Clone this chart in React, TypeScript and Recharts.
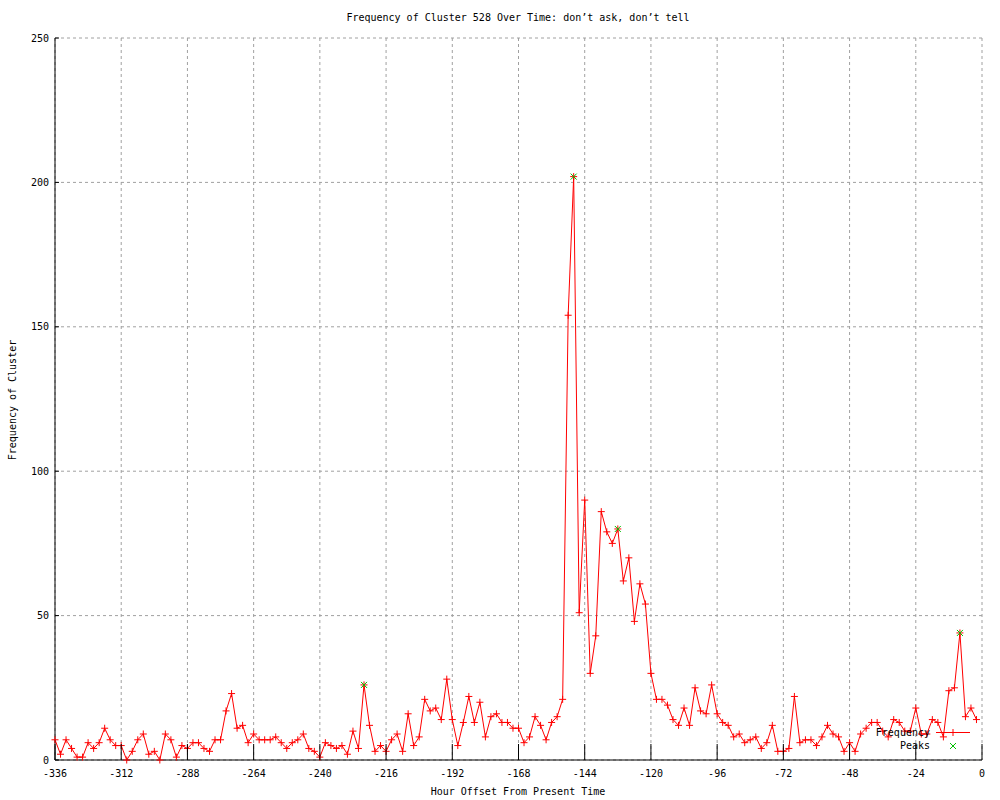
import { ComposedChart, Line, XAxis, YAxis, CartesianGrid } from "recharts";

// hour offsets, one sample every 2 hours
const hours = [
  -336, -334, -332, -330, -328, -326, -324, -322, -320, -318, -316, -314,
  -312, -310, -308, -306, -304, -302, -300, -298, -296, -294, -292, -290,
  -288, -286, -284, -282, -280, -278, -276, -274, -272, -270, -268, -266,
  -264, -262, -260, -258, -256, -254, -252, -250, -248, -246, -244, -242,
  -240, -238, -236, -234, -232, -230, -228, -226, -224, -222, -220, -218,
  -216, -214, -212, -210, -208, -206, -204, -202, -200, -198, -196, -194,
  -192, -190, -188, -186, -184, -182, -180, -178, -176, -174, -172, -170,
  -168, -166, -164, -162, -160, -158, -156, -154, -152, -150, -148, -146,
  -144, -142, -140, -138, -136, -134, -132, -130, -128, -126, -124, -122,
  -120, -118, -116, -114, -112, -110, -108, -106, -104, -102, -100, -98,
  -96, -94, -92, -90, -88, -86, -84, -82, -80, -78, -76, -74,
  -72, -70, -68, -66, -64, -62, -60, -58, -56, -54, -52, -50,
  -48, -46, -44, -42, -40, -38, -36, -34, -32, -30, -28, -26,
  -24, -22, -20, -18, -16, -14, -12, -10, -8, -6, -4, -2,
];

const frequency = [
  7, 2, 7, 4, 1, 1, 6, 4, 6, 11, 7, 5,
  5, 0, 3, 7, 9, 2, 3, 0, 9, 7, 1, 5,
  4, 6, 6, 4, 3, 7, 7, 17, 23, 11, 12, 6,
  9, 7, 7, 7, 8, 6, 4, 6, 7, 9, 4, 3,
  1, 6, 5, 4, 5, 2, 10, 4, 26, 12, 3, 5,
  3, 7, 9, 3, 16, 5, 8, 21, 17, 18, 14, 28,
  14, 5, 13, 22, 13, 20, 8, 15, 16, 13, 13, 11,
  11, 6, 8, 15, 12, 7, 13, 15, 21, 154, 202, 51,
  90, 30, 43, 86, 79, 75, 80, 62, 70, 48, 61, 54,
  30, 21, 21, 19, 14, 12, 18, 12, 25, 17, 16, 26,
  16, 13, 12, 8, 9, 6, 7, 8, 4, 6, 12, 3,
  3, 4, 22, 6, 7, 7, 5, 8, 12, 9, 8, 3,
  6, 3, 9, 11, 13, 13, 10, 8, 14, 13, 10, 10,
  18, 9, 9, 14, 13, 8, 24, 25, 44, 15, 18, 14,
];

const peakHours = [-224, -148, -132, -8];
const peakValues = [26, 202, 80, 44];

const xTicks = [-336, -312, -288, -264, -240, -216, -192, -168, -144, -120, -96, -72, -48, -24, 0];
const yTicks = [0, 50, 100, 150, 200, 250];

const rows = hours.map((h, i) => {
  const p = peakHours.indexOf(h);
  return { hour: h, freq: frequency[i], peak: p >= 0 ? peakValues[p] : null };
});

const FONT = "'DejaVu Sans Mono', monospace";
const RED = "#ff0000";
const GREEN = "#00c000";

const plus = (props: any) => {
  const { cx, cy, index } = props;
  if (cx == null || cy == null || props.value == null) return <g key={`f-${index}`} />;
  return (
    <path
      key={`f-${index}`}
      d={`M${cx - 3.5},${cy}h7M${cx},${cy - 3.5}v7`}
      stroke={RED}
      strokeWidth={1}
      fill="none"
    />
  );
};

const cross = (props: any) => {
  const { cx, cy, index } = props;
  if (cx == null || cy == null || props.value == null) return <g key={`p-${index}`} />;
  return (
    <path
      key={`p-${index}`}
      d={`M${cx - 3},${cy - 3}l6,6M${cx - 3},${cy + 3}l6,-6`}
      stroke={GREEN}
      strokeWidth={1}
      fill="none"
    />
  );
};

const BottomTick = ({ x, y, payload }: any) => (
  <g>
    <line x1={x} x2={x} y1={y} y2={y - 16} stroke="#000" />
    <text x={x} y={y + 17} textAnchor="middle" fontFamily={FONT} fontSize={10} fill="#000">
      {payload.value}
    </text>
  </g>
);

const TopTick = ({ x, y }: any) => <line x1={x} x2={x} y1={y} y2={y + 16} stroke="#000" />;

const LeftTick = ({ x, y, payload }: any) => (
  <g>
    <line x1={x} x2={x + 4} y1={y} y2={y} stroke="#000" />
    <text x={x - 6} y={y + 3.5} textAnchor="end" fontFamily={FONT} fontSize={10} fill="#000">
      {payload.value}
    </text>
  </g>
);

const RightTick = ({ x, y }: any) => <line x1={x} x2={x - 4} y1={y} y2={y} stroke="#000" />;

const textStyle: React.CSSProperties = {
  position: "absolute",
  fontFamily: FONT,
  fontSize: 10,
  lineHeight: "10px",
  color: "#000",
  whiteSpace: "nowrap",
};

export default function App() {
  return (
    <div style={{ position: "relative", width: 1000, height: 800, background: "#fff" }}>
      <style>{`body{margin:0}`}</style>
      <ComposedChart
        width={1000}
        height={800}
        data={rows}
        margin={{ top: 38, right: 18, left: 0, bottom: 0 }}
      >
        <CartesianGrid stroke="#a0a0a0" strokeDasharray="3 3" />
        <XAxis
          dataKey="hour"
          type="number"
          domain={[-336, 0]}
          ticks={xTicks}
          height={40}
          tickSize={0}
          tickMargin={0}
          tickLine={false}
          axisLine={{ stroke: "#000" }}
          tick={<BottomTick />}
          interval={0}
        />
        <XAxis
          xAxisId="top"
          orientation="top"
          type="number"
          domain={[-336, 0]}
          ticks={xTicks}
          height={0}
          tickSize={0}
          tickLine={false}
          axisLine={{ stroke: "#000" }}
          tick={<TopTick />}
          interval={0}
        />
        <YAxis
          type="number"
          domain={[0, 250]}
          ticks={yTicks}
          width={55}
          tickSize={0}
          tickMargin={0}
          tickLine={false}
          axisLine={{ stroke: "#000" }}
          tick={<LeftTick />}
          interval={0}
        />
        <YAxis
          yAxisId="right"
          orientation="right"
          type="number"
          domain={[0, 250]}
          ticks={yTicks}
          width={0}
          tickSize={0}
          tickLine={false}
          axisLine={{ stroke: "#000" }}
          tick={<RightTick />}
          interval={0}
        />
        <Line
          dataKey="freq"
          type="linear"
          stroke={RED}
          strokeWidth={1}
          dot={plus}
          activeDot={false}
          isAnimationActive={false}
        />
        <Line
          dataKey="peak"
          type="linear"
          stroke="none"
          dot={cross}
          activeDot={false}
          connectNulls={false}
          isAnimationActive={false}
        />
      </ComposedChart>

      <div style={{ ...textStyle, left: 0, width: 1036, top: 13, textAlign: "center" }}>
        Frequency of Cluster 528 Over Time: don’t ask, don’t tell
      </div>
      <div style={{ ...textStyle, left: 0, width: 1036, top: 787, textAlign: "center" }}>
        Hour Offset From Present Time
      </div>
      <div
        style={{
          ...textStyle,
          left: 13,
          top: 400,
          transform: "translate(-50%, -50%) rotate(-90deg)",
        }}
      >
        Frequency of Cluster
      </div>

      {/* key box, bottom right inside the plot */}
      <div style={{ ...textStyle, left: 830, width: 100, top: 728, textAlign: "right" }}>Frequency</div>
      <div style={{ ...textStyle, left: 830, width: 100, top: 741, textAlign: "right" }}>Peaks</div>
      <svg style={{ position: "absolute", left: 930, top: 725 }} width={50} height={30}>
        <line x1={6} x2={40} y1={7.5} y2={7.5} stroke={RED} />
        <path d="M19.5,7.5h7M23,4v7" stroke={RED} fill="none" />
        <path d="M20,18l6,6M20,24l6,-6" stroke={GREEN} fill="none" />
      </svg>
    </div>
  );
}
